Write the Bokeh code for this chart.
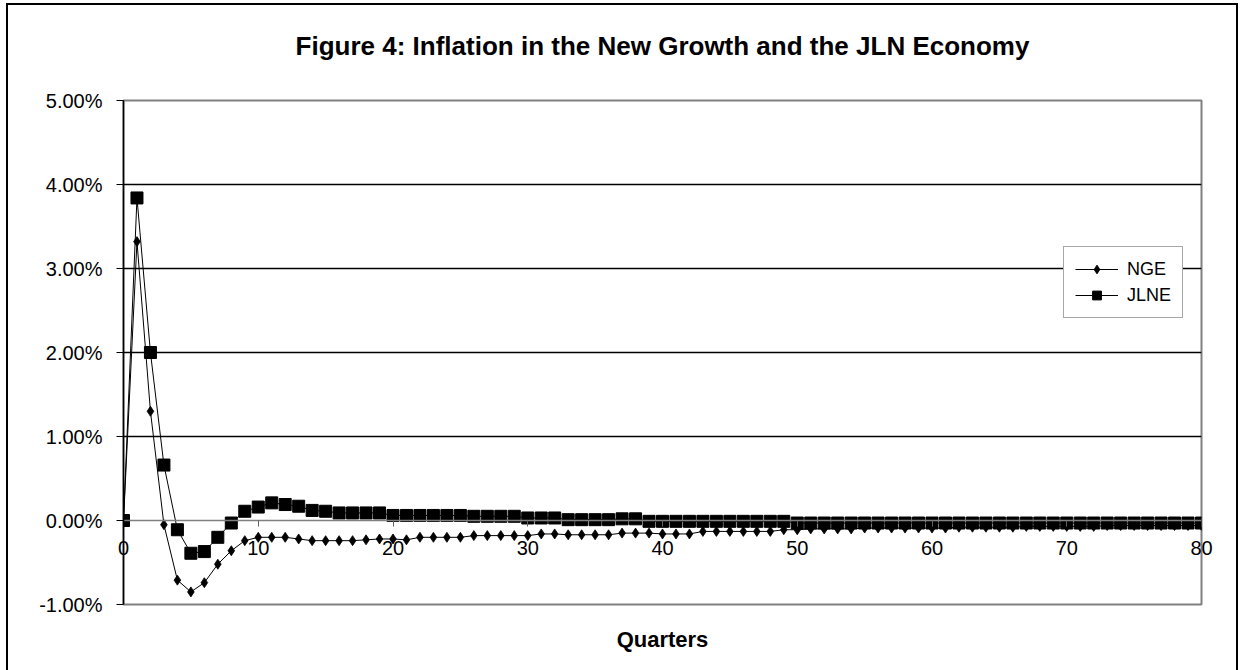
import numpy as np
from bokeh.plotting import figure
from bokeh.models import (Range1d, LinearAxis, FixedTicker, PrintfTickFormatter,
                          Legend, LegendItem, Title)
from bokeh.embed import file_html
from bokeh.resources import INLINE

quarters = list(range(81))

nge = [0.00, 3.32, 1.30, -0.05, -0.71, -0.85, -0.74, -0.52, -0.36, -0.24,
       -0.20, -0.20, -0.20, -0.22, -0.24, -0.24, -0.24, -0.24, -0.23, -0.22,
       -0.22, -0.23, -0.20, -0.20, -0.20, -0.20, -0.18, -0.18, -0.18, -0.18,
       -0.18, -0.16, -0.16, -0.17, -0.17, -0.17, -0.17, -0.15, -0.15, -0.15,
       -0.16, -0.16, -0.16, -0.13, -0.13, -0.13, -0.13, -0.13, -0.13, -0.11,
       -0.11, -0.10, -0.10, -0.10, -0.10, -0.09, -0.09, -0.09, -0.09, -0.09,
       -0.09, -0.09, -0.08, -0.08, -0.08, -0.08, -0.08, -0.07, -0.07, -0.07,
       -0.07, -0.07, -0.07, -0.06, -0.06, -0.06, -0.06, -0.06, -0.06, -0.06,
       -0.06]

jlne = [0.00, 3.84, 2.00, 0.66, -0.11, -0.39, -0.37, -0.20, -0.03, 0.11,
        0.16, 0.21, 0.19, 0.17, 0.12, 0.11, 0.09, 0.09, 0.09, 0.09,
        0.06, 0.06, 0.06, 0.06, 0.06, 0.06, 0.05, 0.05, 0.05, 0.05,
        0.03, 0.03, 0.03, 0.01, 0.01, 0.01, 0.01, 0.02, 0.02, -0.01,
        -0.01, -0.01, -0.01, -0.01, -0.01, -0.01, -0.01, -0.01, -0.01, -0.01,
        -0.03, -0.03, -0.03, -0.03, -0.03, -0.03, -0.03, -0.03, -0.03, -0.03,
        -0.03, -0.03, -0.03, -0.03, -0.03, -0.03, -0.03, -0.03, -0.03, -0.03,
        -0.03, -0.03, -0.03, -0.03, -0.03, -0.03, -0.03, -0.03, -0.03, -0.03,
        -0.03]

x_ticks = [0, 10, 20, 30, 40, 50, 60, 70, 80]
y_ticks = [-1, 0, 1, 2, 3, 4, 5]
grid_ticks = [1, 2, 3, 4]

FONT = "Liberation Sans"

p = figure(width=1241, height=670, output_backend="svg", toolbar_location=None,
           x_range=Range1d(0, 80), y_range=Range1d(-1, 5),
           x_axis_location=None, y_axis_location="left",
           min_border_left=123, min_border_right=40,
           min_border_top=100, min_border_bottom=66)
p.background_fill_color = "white"
p.border_fill_color = "white"
p.border_fill_alpha = 0
p.outline_line_color = "#808080"
p.outline_line_width = 2

# outer chart border (left, top, right edges) drawn as the page background
p.styles = {
    "background-color": "white",
    "background-image": "linear-gradient(black, black), linear-gradient(black, black), "
                        "linear-gradient(black, black)",
    "background-size": "2px 700px, 1232px 2px, 2px 700px",
    "background-position": "6px 3px, 6px 3px, 1236px 3px",
    "background-repeat": "no-repeat",
}

# title
p.title.text = "Figure 4: Inflation in the New Growth and the JLN Economy"
p.title.align = "center"
p.title.text_font = FONT
p.title.text_font_size = "26px"
p.title.text_font_style = "bold"
p.title.text_color = "black"
p.title.offset = -42
p.title.standoff = 56
p.title.padding = {"left": 0, "right": 0, "top": 0, "bottom": 12}

# y axis
ya = p.yaxis[0]
ya.ticker = FixedTicker(ticks=y_ticks)
ya.formatter = PrintfTickFormatter(format="%.2f%%")
ya.major_label_text_font = FONT
ya.major_label_text_font_size = "20px"
ya.major_label_text_color = "black"
ya.axis_line_color = "black"
ya.axis_line_width = 1.5
ya.major_tick_line_color = "black"
ya.major_tick_out = 7
ya.major_tick_in = 0
ya.minor_tick_line_color = None
ya.major_label_standoff = 14

# x axis line and ticks crossing at zero
xa = LinearAxis(fixed_location=0, ticker=FixedTicker(ticks=x_ticks))
xa.major_label_text_alpha = 0
xa.major_label_text_font_size = "1px"
xa.axis_line_color = "#808080"
xa.axis_line_width = 1.5
xa.major_tick_line_color = "#606060"
xa.major_tick_out = 6
xa.major_tick_in = 0
xa.minor_tick_line_color = None
p.add_layout(xa, "below")

# x tick labels: a second axis whose labels are lifted up next to the zero line
xb = LinearAxis(ticker=FixedTicker(ticks=x_ticks))
xb.major_label_text_font = FONT
xb.major_label_text_font_size = "20px"
xb.major_label_text_color = "black"
xb.axis_line_color = None
xb.major_tick_line_color = None
xb.major_tick_out = 0
xb.major_tick_in = 0
xb.minor_tick_line_color = None
xb.major_label_standoff = -64
p.add_layout(xb, "below")

p.add_layout(Title(text="Quarters", align="center", text_font=FONT,
                   text_font_size="22px", text_font_style="bold",
                   text_color="black", standoff=28,
                   padding={"left": 0, "right": 0, "top": 6, "bottom": 0}), "below")

# grid
p.xgrid.grid_line_color = None
p.ygrid.ticker = FixedTicker(ticks=grid_ticks)
p.ygrid.grid_line_color = "black"
p.ygrid.grid_line_width = 1.3

# series
l1 = p.line(quarters, nge, line_color="black", line_width=1)
s1 = p.scatter(quarters, nge, marker="diamond", size=10,
               fill_color="black", line_color="black", line_width=0.8)
l2 = p.line(quarters, jlne, line_color="black", line_width=1)
s2 = p.scatter(quarters, jlne, marker="square", size=12,
               fill_color="black", line_color="black")

legend = Legend(items=[LegendItem(label="NGE", renderers=[l1, s1]),
                       LegendItem(label="JLNE", renderers=[l2, s2])],
                location=(940, 286))
legend.label_text_font = FONT
legend.label_text_font_size = "18px"
legend.label_text_color = "black"
legend.glyph_width = 43
legend.glyph_height = 22
legend.label_standoff = 9
legend.padding = 11
legend.spacing = 4
legend.margin = 0
legend.border_line_color = "#505050"
legend.border_line_width = 1.5
legend.background_fill_color = "white"
legend.background_fill_alpha = 1
p.add_layout(legend, "center")

open("out.html", "w").write(file_html(p, INLINE))
